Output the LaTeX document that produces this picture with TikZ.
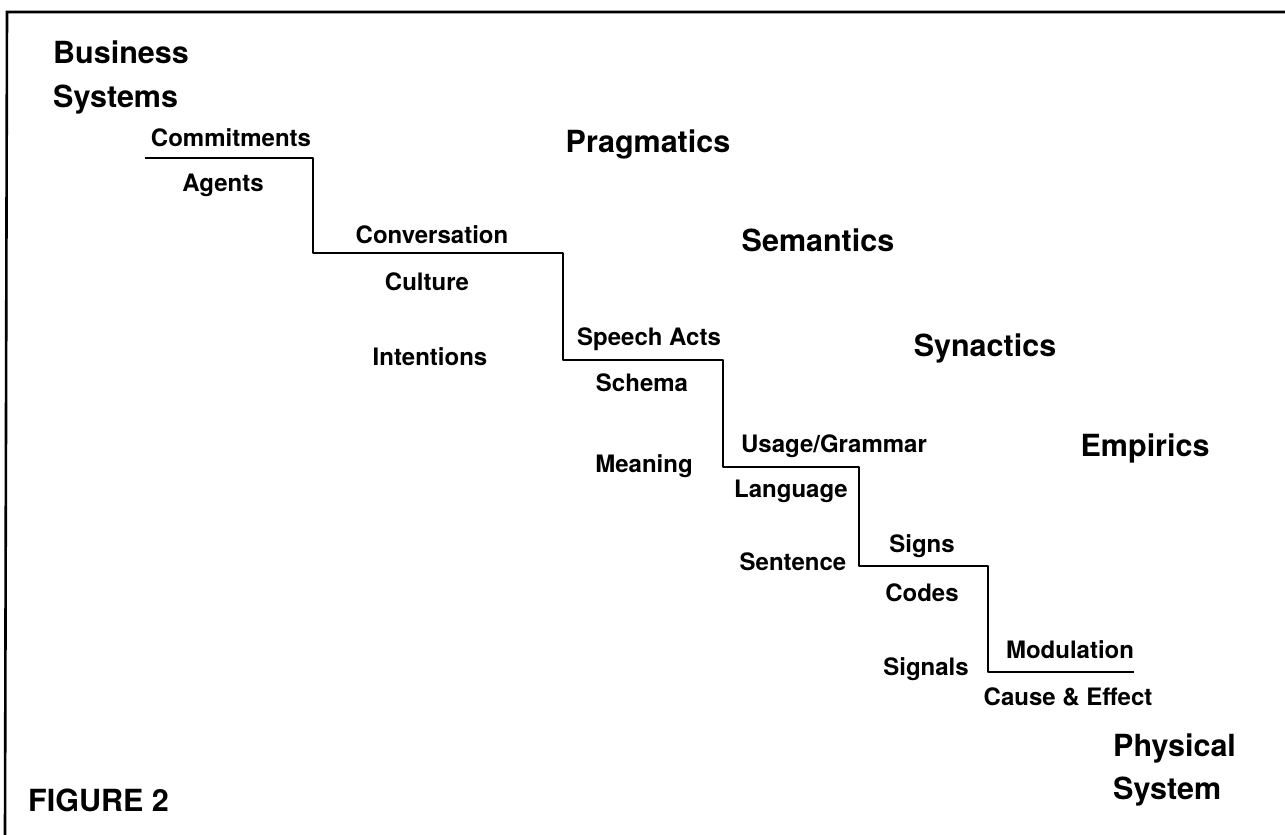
\documentclass[tikz,border=0pt]{standalone}
\usepackage{fontspec}
\setmainfont{TeX Gyre Heros}

\begin{document}
\begin{tikzpicture}
      [
        x = 1pt, y = -1pt,
        tier/.style = {font=\fontsize{30.5}{34}\selectfont\bfseries, inner sep=0pt, anchor=base},
        term/.style = {font=\fontsize{24}{28}\selectfont\bfseries, inner sep=0pt, anchor=base},
        stair/.style = {line width=2.6pt, line join=round},
      ]

      \useasboundingbox (0,0) rectangle (1285,835);

      % frame edges
      \draw[line width=2.6pt] (1285,12) -- (7,12) -- (5,835);

      % the staircase
      \draw[stair] (145,158) -- (313,158) -- (313,253) -- (563,253) -- (563,360)
        -- (723,360) -- (723,467) -- (859,467) -- (859,566) -- (988,566)
        -- (988,672) -- (1134,672);

      \node[tier, anchor=base west] (business) at (53,63) {Business};
      \node[tier, anchor=base west] (systems) at (53,107) {Systems};
      \node[tier] (pragmatics) at (648,152) {Pragmatics};
      \node[tier] (semantics) at (818,251) {Semantics};
      \node[tier] (synactics) at (985,356) {Synactics};
      \node[tier] (empirics) at (1145,456) {Empirics};
      \node[tier, anchor=base west] (physical) at (1113,756) {Physical};
      \node[tier, anchor=base west] (physsystem) at (1113,799) {System};
      \node[tier, anchor=base west] (figure) at (28,811) {FIGURE 2};

      \node[term] (commitments) at (231,146) {Commitments};
      \node[term] (agents) at (223,191) {Agents};
      \node[term] (conversation) at (432,243) {Conversation};
      \node[term] (culture) at (427,290) {Culture};
      \node[term] (intentions) at (430,365) {Intentions};
      \node[term] (speechacts) at (649,345) {Speech Acts};
      \node[term] (schema) at (642,391) {Schema};
      \node[term] (meaning) at (644,472) {Meaning};
      \node[term] (usage) at (834,452) {Usage/Grammar};
      \node[term] (language) at (791,497) {Language};
      \node[term] (signs) at (922,552) {Signs};
      \node[term] (sentence) at (793,570) {Sentence};
      \node[term] (codes) at (922,601) {Codes};
      \node[term] (modulation) at (1070,658) {Modulation};
      \node[term] (signals) at (926,675) {Signals};
      \node[term] (cause) at (1068,705) {Cause \& Effect};

\end{tikzpicture}
\end{document}
